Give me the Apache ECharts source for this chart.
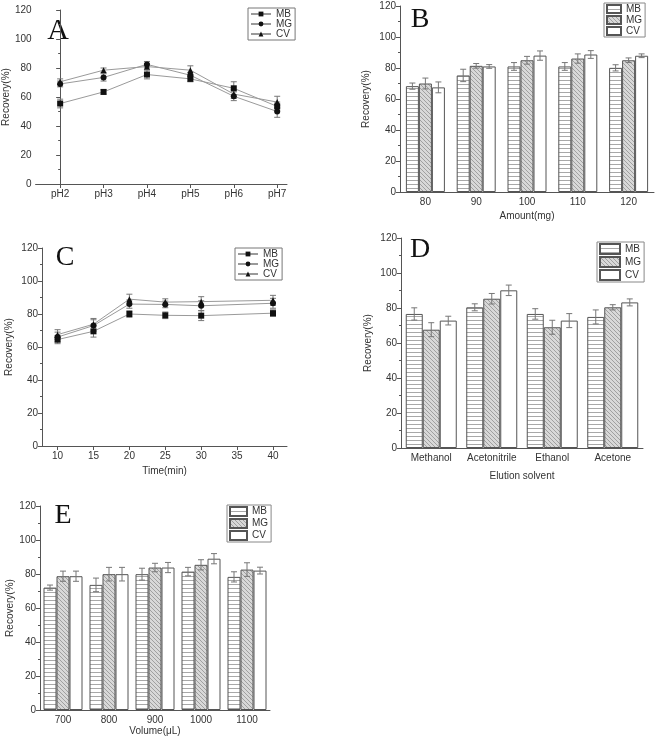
<!DOCTYPE html>
<html><head><meta charset="utf-8">
<script src="https://cdn.jsdelivr.net/npm/echarts@6/dist/echarts.min.js"></script>
<style>html,body{margin:0;padding:0;background:#fff}#c{width:660px;height:744px}</style>
</head><body><div id="c"></div>
<script>
// ---------- data ----------
const seriesNames = ['MB', 'MG', 'CV'];
// Panel A: pH
const phLabels = ['pH2', 'pH3', 'pH4', 'pH5', 'pH6', 'pH7'];
const aMB = [55.5, 63.5, 75.5, 72.5, 66, 53.5];
const aMG = [69, 73.5, 82.5, 75, 60.5, 50];
const aCV = [70.5, 78.5, 81, 78.5, 62, 56.5];
const aMBerr = [3, 1.5, 3, 2, 4.5, 3];
const aMGerr = [2, 2.5, 2, 2, 3, 4];
const aCVerr = [2, 1.5, 2, 3, 3, 4];
// Panel B: amount
const amounts = ['80', '90', '100', '110', '120'];
const bMB = [68.3, 75.2, 81, 81, 80.1];
const bMG = [70, 81.4, 85, 86.1, 85];
const bCV = [67.5, 81, 88, 88.7, 87.9];
const bMBerr = [2, 4, 2.5, 2.5, 2];
const bMGerr = [3.5, 1.5, 2.5, 3, 1.5];
const bCVerr = [3.5, 1.2, 3, 2.5, 1.2];
// Panel C: time
const times = [10, 15, 20, 25, 30, 40];
const timeTicks = [10, 15, 20, 25, 30, 35, 40];
const cMB = [64.5, 69.5, 80, 79.2, 79, 80.5];
const cMG = [66, 73, 86, 85.8, 85, 86.5];
const cCV = [67.5, 73.8, 89, 87.2, 87.5, 88.3];
const cMBerr = [2.5, 3.5, 2, 2, 3, 2];
const cMGerr = [3, 3.5, 2.5, 2, 3, 3];
const cCVerr = [3, 3.5, 3, 2, 3, 3];
// Panel D: elution solvent
const solvents = ['Methanol', 'Acetonitrile', 'Ethanol', 'Acetone'];
const dMB = [76.6, 80.4, 76.6, 74.9];
const dMG = [67.6, 85.3, 69, 80.4];
const dCV = [72.8, 90.1, 72.8, 83.2];
const dMBerr = [3.5, 2, 3, 4];
const dMGerr = [4, 3, 4, 1.5];
const dCVerr = [2.5, 3, 4, 2];
// Panel E: volume
const volumes = ['700', '800', '900', '1000', '1100'];
const eMB = [72, 73.6, 79.9, 81.4, 78.3];
const eMG = [78.7, 79.9, 83.8, 85.4, 82.6];
const eCV = [78.7, 79.9, 83.8, 89, 82];
const eMBerr = [1.5, 4, 3.5, 2.5, 3];
const eMGerr = [3, 4, 2.5, 3, 4];
const eCVerr = [3, 4, 3, 3, 2];

// ---------- styles ----------
const FONT = 'Liberation Sans';
const AX = '#555';
function makePattern(kind) {
  const c = document.createElement('canvas');
  c.width = 4; c.height = 4;
  const g = c.getContext('2d');
  if (kind === 'h') {
    g.fillStyle = '#fff'; g.fillRect(0, 0, 4, 4);
    g.fillStyle = '#a8a8a8'; g.fillRect(0, 0, 4, 1);
  } else {
    g.fillStyle = '#d8d8d8'; g.fillRect(0, 0, 4, 4);
    g.strokeStyle = '#a0a0a0'; g.lineWidth = 1;
    g.beginPath(); g.moveTo(0, 0); g.lineTo(4, 4); g.stroke();
    g.beginPath(); g.moveTo(-1, 3); g.lineTo(1, 5); g.stroke();
    g.beginPath(); g.moveTo(3, -1); g.lineTo(5, 1); g.stroke();
  }
  return { image: c, repeat: 'repeat' };
}
const fills = [makePattern('h'), makePattern('d'), '#ffffff'];
const symbols = ['rect', 'circle', 'triangle'];

const grids = [
  { left: 31, top: 10, width: 256, height: 174 },   // A
  { left: 400, top: 6, width: 254, height: 186 },   // B
  { left: 42, top: 248, width: 245, height: 198 },  // C
  { left: 401, top: 238, width: 242, height: 210 }, // D
  { left: 40, top: 506, width: 230, height: 204 }   // E
];
const barWidths = { 1: 13, 3: 17, 4: 13 };

function yAxis(gi, gap) {
  return {
    type: 'value', gridIndex: gi, min: 0, max: 120, interval: 20,
    name: 'Recovery(%)', nameLocation: 'middle', nameGap: gap,
    nameTextStyle: { fontFamily: FONT, fontSize: 10, color: '#333' },
    axisLine: { show: true, lineStyle: { color: AX } },
    axisTick: { show: true, length: 4, lineStyle: { color: AX } },
    minorTick: { show: true, splitNumber: 2, length: 2, lineStyle: { color: AX } },
    axisLabel: { fontFamily: FONT, fontSize: 10, color: '#333', margin: 4 },
    splitLine: { show: false }
  };
}
function catAxis(gi, data, name, gap) {
  return {
    type: 'category', gridIndex: gi, data: data, boundaryGap: true,
    name: name, nameLocation: 'middle', nameGap: gap,
    nameTextStyle: { fontFamily: FONT, fontSize: 10, color: '#333' },
    axisLine: { lineStyle: { color: AX } },
    axisTick: { alignWithLabel: true, length: 4, lineStyle: { color: AX } },
    axisLabel: { fontFamily: FONT, fontSize: 10, color: '#333', margin: 5, interval: 0 },
    splitLine: { show: false }
  };
}

const option = {
  animation: false,
  backgroundColor: '#fff',
  grid: grids,
  xAxis: [
    {
      type: 'value', gridIndex: 0, min: -0.566, max: 5.226,
      axisLine: { lineStyle: { color: AX } },
      axisTick: { length: 4, lineStyle: { color: AX }, customValues: phLabels.map((_, i) => i) },
      axisLabel: { fontFamily: FONT, fontSize: 10, color: '#333', margin: 5,
        customValues: phLabels.map((_, i) => i), formatter: v => phLabels[Math.round(v)] },
      splitLine: { show: false }
    },
    catAxis(1, amounts, 'Amount(mg)', 19),
    {
      type: 'value', gridIndex: 2, min: 7.83, max: 41.95,
      name: 'Time(min)', nameLocation: 'middle', nameGap: 20,
      nameTextStyle: { fontFamily: FONT, fontSize: 10, color: '#333' },
      axisLine: { lineStyle: { color: AX } },
      axisTick: { length: 4, lineStyle: { color: AX }, customValues: timeTicks },
      axisLabel: { fontFamily: FONT, fontSize: 10, color: '#333', margin: 5, customValues: timeTicks },
      splitLine: { show: false }
    },
    catAxis(3, solvents, 'Elution solvent', 23),
    catAxis(4, volumes, 'Volume(\u03bcL)', 13)
  ],
  yAxis: [yAxis(0, 21), yAxis(1, 29), yAxis(2, 28), yAxis(3, 28), yAxis(4, 25)],
  legend: [],
  series: [],
  graphic: [
    { type: 'text', style: { text: 'A', x: 58, y: 31, align: 'center', verticalAlign: 'middle', font: '30px "Liberation Serif"', fill: '#111' } },
    { type: 'text', style: { text: 'B', x: 420, y: 20, align: 'center', verticalAlign: 'middle', font: '28px "Liberation Serif"', fill: '#111' } },
    { type: 'text', style: { text: 'C', x: 65, y: 258, align: 'center', verticalAlign: 'middle', font: '28px "Liberation Serif"', fill: '#111' } },
    { type: 'text', style: { text: 'D', x: 420, y: 250, align: 'center', verticalAlign: 'middle', font: '28px "Liberation Serif"', fill: '#111' } },
    { type: 'text', style: { text: 'E', x: 63, y: 516, align: 'center', verticalAlign: 'middle', font: '28px "Liberation Serif"', fill: '#111' } }
  ]
};

function errSeries(gi, xs, vals, errs, k, isBar) {
  return {
    type: 'custom', xAxisIndex: gi, yAxisIndex: gi, z: 5, silent: true,
    data: vals.map((v, i) => [isBar ? i : xs[i], v, errs[i]]),
    renderItem: function (params, api) {
      const x0 = api.value(0), v = api.value(1), e = api.value(2);
      let x = api.coord([x0, v])[0];
      if (isBar) x += (k - 1) * barWidths[gi];
      const yt = api.coord([x0, v + e])[1];
      const yb = api.coord([x0, v - e])[1];
      const st = { stroke: '#777', lineWidth: 1 };
      return { type: 'group', children: [
        { type: 'line', shape: { x1: x, y1: yt, x2: x, y2: yb }, style: st },
        { type: 'line', shape: { x1: x - 3, y1: yt, x2: x + 3, y2: yt }, style: st },
        { type: 'line', shape: { x1: x - 3, y1: yb, x2: x + 3, y2: yb }, style: st }
      ] };
    }
  };
}

function addLinePanel(gi, tag, xs, sets, errsets, legendPos) {
  sets.forEach((vals, k) => {
    option.series.push({
      name: tag + '|' + seriesNames[k], type: 'line', xAxisIndex: gi, yAxisIndex: gi, z: 6,
      data: vals.map((v, i) => [xs[i], v]),
      symbol: symbols[k], symbolSize: 6,
      lineStyle: { color: '#9a9a9a', width: 1 },
      itemStyle: { color: '#111' }
    });
    option.series.push(errSeries(gi, xs, vals, errsets[k], k, false));
  });
  option.legend.push(Object.assign({
    data: seriesNames.map(n => tag + '|' + n), orient: 'vertical', selectedMode: false,
    formatter: n => n.split('|')[1], borderColor: '#777', borderWidth: 1,
    padding: [1, 3, 1, 2], itemGap: 0, itemWidth: 20, itemHeight: 6,
    textStyle: { fontFamily: FONT, fontSize: 10, color: '#333' }
  }, legendPos));
}

function addBarPanel(gi, tag, cats, sets, errsets, legendPos, iw, ih) {
  sets.forEach((vals, k) => {
    option.series.push({
      name: tag + '|' + seriesNames[k], type: 'bar', xAxisIndex: gi, yAxisIndex: gi, z: 3,
      data: vals, barWidth: barWidths[gi], barGap: '0%',
      itemStyle: { color: fills[k], borderColor: '#555', borderWidth: 1 }
    });
    option.series.push(errSeries(gi, cats, vals, errsets[k], k, true));
  });
  option.legend.push(Object.assign({
    data: seriesNames.map(n => ({ name: tag + '|' + n, icon: 'rect' })), orient: 'vertical', selectedMode: false,
    formatter: n => n.split('|')[1], borderColor: '#888', borderWidth: 1,
    padding: [1, 3, 1, 2], itemGap: 1, itemWidth: iw, itemHeight: ih,
    textStyle: { fontFamily: FONT, fontSize: 10, color: '#333' }
  }, legendPos));
}

addLinePanel(0, 'A', phLabels.map((_, i) => i), [aMB, aMG, aCV], [aMBerr, aMGerr, aCVerr], { left: 248, top: 8 });
addBarPanel(1, 'B', amounts, [bMB, bMG, bCV], [bMBerr, bMGerr, bCVerr], { left: 604, top: 3 }, 14, 8);
addLinePanel(2, 'C', times, [cMB, cMG, cCV], [cMBerr, cMGerr, cCVerr], { left: 235, top: 248 });
addBarPanel(3, 'D', solvents, [dMB, dMG, dCV], [dMBerr, dMGerr, dCVerr], { left: 597, top: 242 }, 20, 10);
addBarPanel(4, 'E', volumes, [eMB, eMG, eCV], [eMBerr, eMGerr, eCVerr], { left: 227, top: 505 }, 17, 9);

const chart = echarts.init(document.getElementById('c'), null, { renderer: 'canvas' });
chart.setOption(option);
</script></body></html>
